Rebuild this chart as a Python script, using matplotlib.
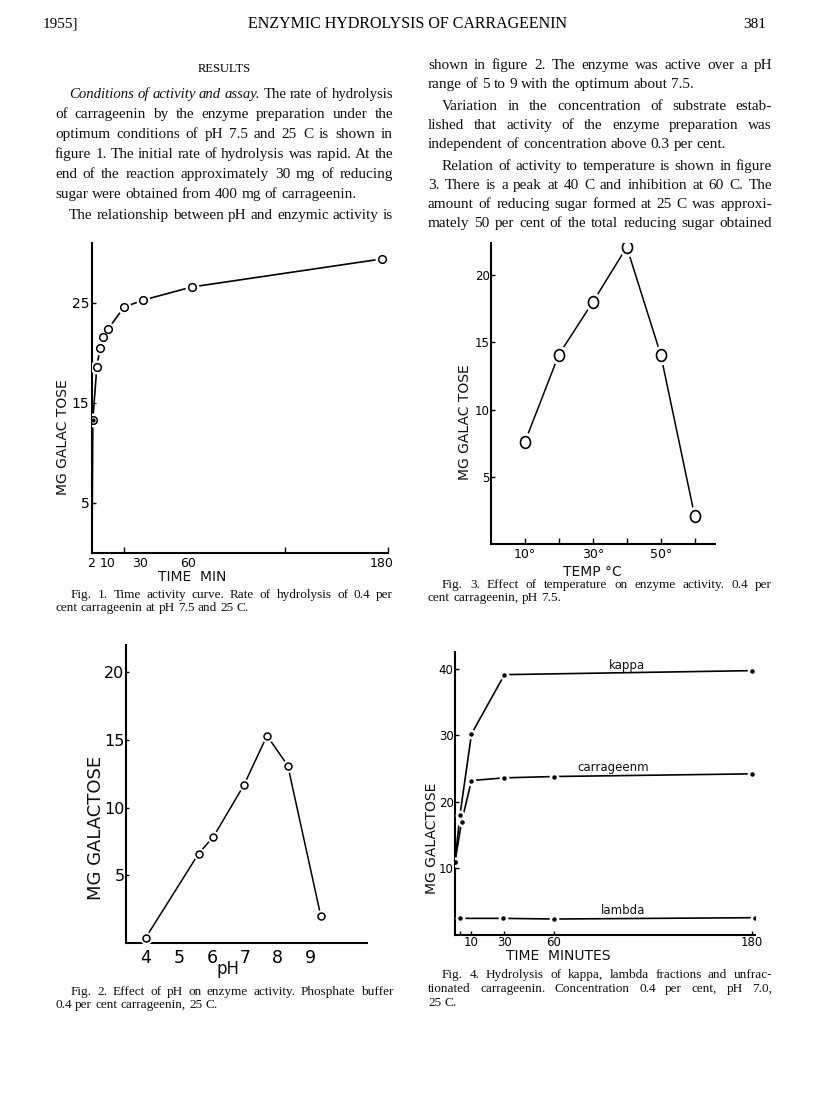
import matplotlib
matplotlib.use("Agg")
import matplotlib.pyplot as plt
from matplotlib.path import Path
from matplotlib.transforms import Affine2D

W, H = 816, 1098
SERIF = ["Liberation Serif", "DejaVu Serif"]
HAND = ["DejaVu Sans"]

# Fig. 1 - time activity curve
t1 = [0, 0.5, 3, 5, 7, 10, 20, 32, 62, 180]
g1 = [0, 13.3, 18.6, 20.5, 21.6, 22.4, 24.6, 25.3, 26.6, 29.4]

# Fig. 3 - temperature
temp = [10, 20, 30, 40, 50, 60]
g3 = [7.6, 14.1, 18.0, 22.1, 14.1, 2.1]

# Fig. 2 - pH
ph = [4.0, 5.6, 6.05, 6.97, 7.67, 8.3, 9.3]
g2 = [0.4, 6.6, 7.85, 11.65, 15.3, 13.1, 2.0]

# Fig. 4 - fractions
t_kappa = [0, 3, 10, 30, 180]
kappa = [11, 18, 30.2, 39.1, 39.7]
t_carr = [0, 4, 10, 30, 60, 180]
carr = [11, 17, 23.2, 23.6, 23.8, 24.2]
t_lamb = [3, 29, 60, 182]
lamb = [2.5, 2.5, 2.4, 2.6]

fig = plt.figure(figsize=(W / 100, H / 100), dpi=100)
rend = fig.canvas.get_renderer()


def px(x, y):
    return x / W, 1 - y / H


def put_line(x0, x1, y, s, size, just=True, italic=0):
    # one line of print, words spread out to the column width
    ts = []
    for i, w in enumerate(s.split()):
        ts.append(fig.text(0, 0, w, fontsize=size, family=SERIF, va="baseline",
                           style="italic" if i < italic else "normal", color="#111"))
    ws = [t.get_window_extent(rend).width for t in ts]
    gap = size * 100 / 72 * 0.25
    need = sum(ws) + gap * (len(ts) - 1)
    if need > x1 - x0:
        # too long for the column: shrink a little
        f = (x1 - x0) / need
        for t in ts:
            t.set_fontsize(size * f)
        ws = [t.get_window_extent(rend).width for t in ts]
        gap = gap * f
    if just and len(ts) > 1:
        gap = (x1 - x0 - sum(ws)) / (len(ts) - 1)
    x = x0
    for t, w in zip(ts, ws):
        t.set_position(px(x, y))
        x += w + gap


def panel(l, t, r, b):
    ax = fig.add_axes([l / W, 1 - b / H, (r - l) / W, (b - t) / H])
    ax.spines["top"].set_visible(False)
    ax.spines["right"].set_visible(False)
    ax.spines["left"].set_linewidth(1.5)
    ax.spines["bottom"].set_linewidth(1.5)
    ax.patch.set_alpha(0)
    return ax


def hand(x, y, s, size, rot=0):
    fig.text(*px(x, y), s, fontsize=size, family=HAND, rotation=rot,
             ha="center", va="center", color="#111")


# ---- page text ----
fig.text(*px(43, 28), "1955]", fontsize=11, family=SERIF, va="baseline")
fig.text(*px(408, 28), "ENZYMIC HYDROLYSIS OF CARRAGEENIN", fontsize=11.5,
         family=SERIF, va="baseline", ha="center")
fig.text(*px(766, 28), "381", fontsize=11, family=SERIF, va="baseline", ha="right")
fig.text(*px(224, 72), "RESULTS", fontsize=9, family=SERIF, va="baseline", ha="center")

L0, L1 = 55, 393
R0, R1 = 428, 772
left_lines = [
    ("Conditions of activity and assay. The rate of hydrolysis", 98, 14, True, 5),
    ("of carrageenin by the enzyme preparation under the", 118, 0, True, 0),
    ("optimum conditions of pH 7.5 and 25 C is shown in", 138, 0, True, 0),
    ("figure 1. The initial rate of hydrolysis was rapid. At the", 158, 0, True, 0),
    ("end of the reaction approximately 30 mg of reducing", 178, 0, True, 0),
    ("sugar were obtained from 400 mg of carrageenin.", 198, 0, False, 0),
    ("The relationship between pH and enzymic activity is", 219, 14, True, 0),
]
right_lines = [
    ("shown in figure 2. The enzyme was active over a pH", 69, 0, True, 0),
    ("range of 5 to 9 with the optimum about 7.5.", 88, 0, False, 0),
    ("Variation in the concentration of substrate estab-", 110, 14, True, 0),
    ("lished that activity of the enzyme preparation was", 129, 0, True, 0),
    ("independent of concentration above 0.3 per cent.", 148, 0, False, 0),
    ("Relation of activity to temperature is shown in figure", 170, 14, True, 0),
    ("3. There is a peak at 40 C and inhibition at 60 C. The", 189, 0, True, 0),
    ("amount of reducing sugar formed at 25 C was approxi-", 208, 0, True, 0),
    ("mately 50 per cent of the total reducing sugar obtained", 227, 0, True, 0),
]
for s, y, ind, j, it in left_lines:
    put_line(L0 + ind, L1, y, s, 11, j, it)
for s, y, ind, j, it in right_lines:
    put_line(R0 + ind, R1, y, s, 11, j, it)

captions = [
    ("Fig. 1. Time activity curve. Rate of hydrolysis of 0.4 per", L0 + 16, L1, 598, True),
    ("cent carrageenin at pH 7.5 and 25 C.", L0, L1, 611, False),
    ("Fig. 3. Effect of temperature on enzyme activity. 0.4 per", R0 + 14, R1, 588, True),
    ("cent carrageenin, pH 7.5.", R0, R1, 601, False),
    ("Fig. 2. Effect of pH on enzyme activity. Phosphate buffer", L0 + 16, L1, 995, True),
    ("0.4 per cent carrageenin, 25 C.", L0, L1, 1008, False),
    ("Fig. 4. Hydrolysis of kappa, lambda fractions and unfrac-", R0 + 14, R1, 978, True),
    ("tionated carrageenin. Concentration 0.4 per cent, pH 7.0,", R0, R1, 992, True),
    ("25 C.", R0, R1, 1006, False),
]
for s, x0, x1, y, j in captions:
    put_line(x0, x1, y, s, 9.5, j)

halo = dict(ls="none", marker="o", color="white", zorder=3)

# ---- Fig. 1 ----
ax1 = panel(92, 243, 388, 553)
ax1.plot(t1, g1, color="k", lw=1.2, zorder=2)
ax1.plot(t1[1:], g1[1:], ms=9, **halo)
ax1.plot(t1[1:], g1[1:], "o", ms=5.5, mfc="white", mec="k", mew=1.1, zorder=4)
ax1.plot(t1[1], g1[1], "o", ms=2, color="k", zorder=5)
ax1.set_xlim(0, 184)
ax1.set_ylim(0, 31)
ax1.set_xticks([2, 10, 30, 60, 180])
ax1.set_xticks([10, 20, 120, 184], minor=True)
ax1.set_yticks([5, 15, 25])
ax1.tick_params(axis="x", which="major", length=0, pad=3, labelsize=9)
ax1.tick_params(axis="x", which="minor", direction="in", length=4, width=1)
ax1.tick_params(axis="y", direction="in", length=3, width=1, pad=2, labelsize=10)
for lb in ax1.get_xticklabels() + ax1.get_yticklabels():
    lb.set_family(HAND)
ax1.get_xticklabels()[0].set_ha("right")
hand(63, 437, "MG GALAC TOSE", 10, 90)
hand(192, 577, "TIME  MIN", 10)

# ---- Fig. 3 ----
ellipse = Path.unit_circle().transformed(Affine2D().scale(0.85, 1.0))
ax3 = panel(491, 243, 715, 544)
ax3.plot(temp, g3, color="k", lw=1.1, zorder=2)
ax3.plot(temp, g3, ls="none", marker=ellipse, ms=13, color="white", zorder=3)
ax3.plot(temp, g3, ls="none", marker=ellipse, ms=8.5, mfc="white", mec="k",
         mew=1.2, zorder=4)
ax3.set_xlim(0, 66)
ax3.set_ylim(0, 22.4)
ax3.set_xticks([10, 20, 30, 40, 50, 60])
ax3.set_xticklabels(["10°", "", "30°", "", "50°", ""])
ax3.set_yticks([5, 10, 15, 20])
ax3.tick_params(axis="x", direction="in", length=4, width=1, pad=3, labelsize=9)
ax3.tick_params(axis="y", direction="in", length=3, width=1, pad=1, labelsize=8.5)
for lb in ax3.get_xticklabels() + ax3.get_yticklabels():
    lb.set_family(HAND)
hand(465, 422, "MG GALAC TOSE", 10, 90)
hand(592, 572, "TEMP °C", 10)

# ---- Fig. 2 ----
ax2 = panel(126, 645, 367, 943)
ax2.plot(ph, g2, color="k", lw=1.1, zorder=2)
ax2.plot(ph, g2, ms=8, **halo)
ax2.plot(ph, g2, "o", ms=5, mfc="white", mec="k", mew=1.1, zorder=4)
ax2.set_xlim(3.4, 10.7)
ax2.set_ylim(0, 22)
ax2.set_xticks([4, 5, 6, 7, 8, 9])
ax2.set_yticks([5, 10, 15, 20])
ax2.tick_params(axis="x", length=0, pad=4, labelsize=12.5)
ax2.tick_params(axis="y", direction="in", length=2, width=1, pad=1, labelsize=11.5)
for lb in ax2.get_xticklabels() + ax2.get_yticklabels():
    lb.set_family(HAND)
hand(96, 828, "MG GALACTOSE", 13, 90)
hand(228, 969, "pH", 12)

# ---- Fig. 4 ----
ax4 = panel(455, 652, 755, 935)
for tx, gy in [(t_kappa, kappa), (t_carr, carr), (t_lamb, lamb)]:
    ax4.plot(tx, gy, color="k", lw=1.2, zorder=2)
    ax4.plot(tx, gy, ms=6, **halo)
    ax4.plot(tx, gy, "o", ms=2.2, color="k", zorder=4)
ax4.set_xlim(0, 182)
ax4.set_ylim(0, 42.5)
ax4.set_xticks([10, 30, 60, 180])
ax4.set_xticks([3], minor=True)
ax4.set_yticks([10, 20, 30, 40])
ax4.tick_params(axis="x", which="both", direction="in", length=3, width=1, pad=1,
                labelsize=8.5)
ax4.tick_params(axis="y", direction="in", length=3, width=1, pad=1, labelsize=8.5)
for lb in ax4.get_xticklabels() + ax4.get_yticklabels():
    lb.set_family(HAND)
hand(432, 838, "MG GALACTOSE", 10, 90)
hand(558, 956, "TIME  MINUTES", 10)
hand(627, 665, "kappa", 8.5)
hand(613, 768, "carrageenm", 8.5)
hand(623, 910, "lambda", 8.5)

fig.savefig("out.png", dpi=100)
